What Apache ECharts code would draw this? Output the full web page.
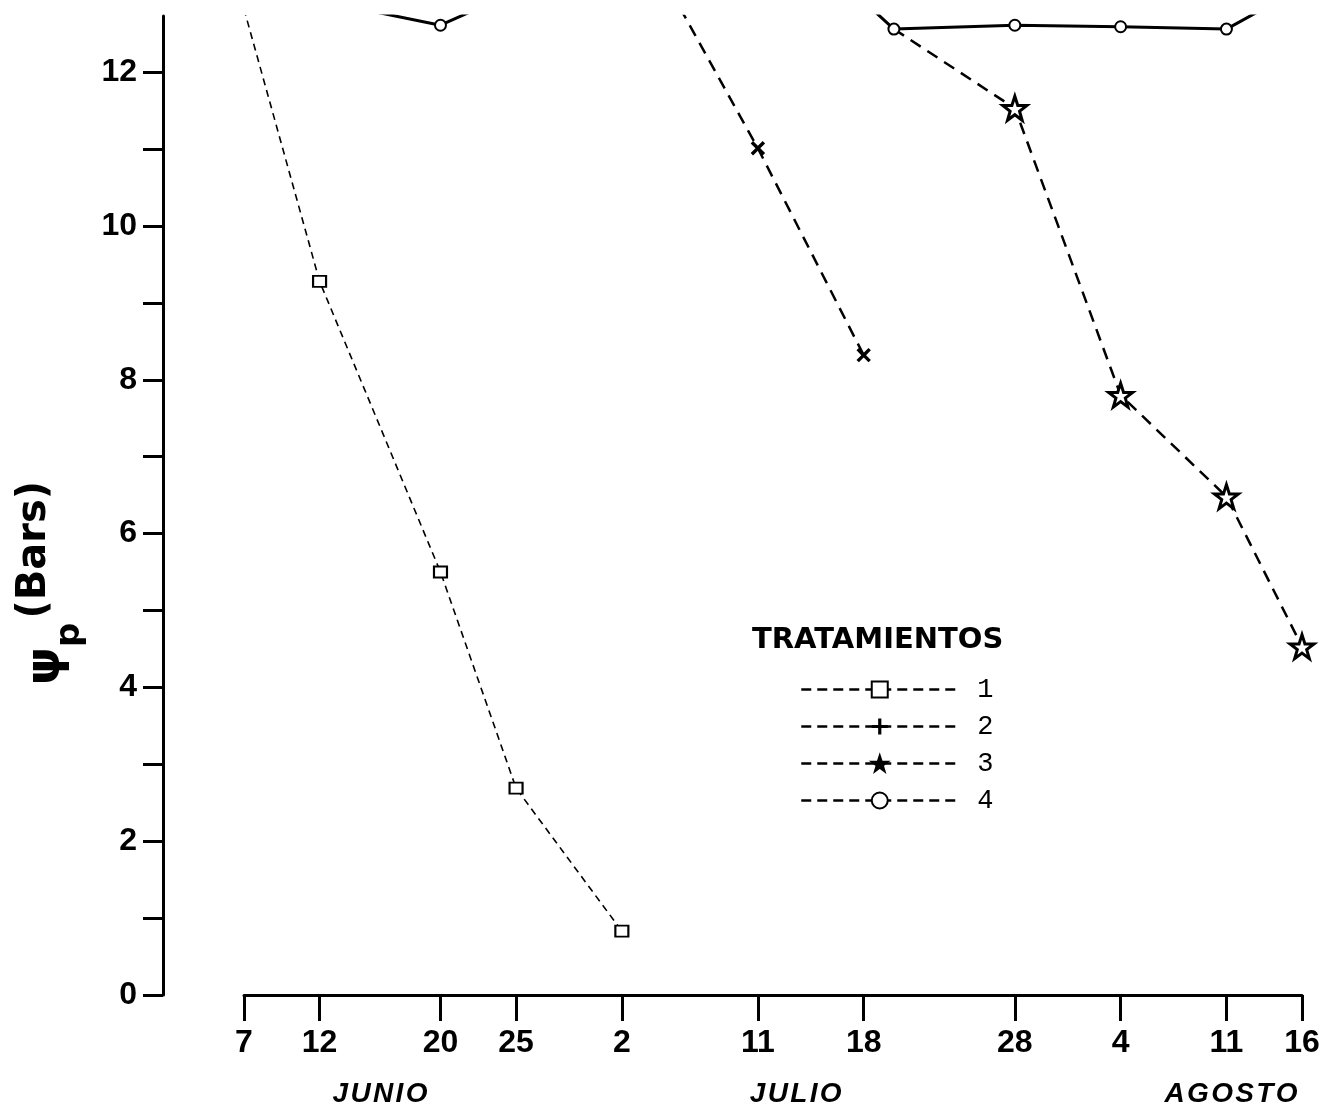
<!DOCTYPE html>
<html>
<head>
<meta charset="utf-8">
<script src="https://cdn.jsdelivr.net/npm/echarts@6/dist/echarts.min.js"></script>
<style>
html,body{margin:0;padding:0;background:#fff;}
#chart{width:1324px;height:1112px;}
</style>
</head>
<body>
<div id="chart"></div>
<script>
// x = days since 7 June
const tickDays = [0, 5, 13, 18, 25, 34, 41, 51, 58, 65, 70];
const tickLabels = ['7', '12', '20', '25', '2', '11', '18', '28', '4', '11', '16'];
const monthDays = [9, 36.5, 65.3];
const monthLabels = ['JUNIO', 'JULIO', 'AGOSTO'];
const yTicks = [0,1,2,3,4,5,6,7,8,9,10,11,12];
const yLabels = [0,2,4,6,8,10,12];

const t1Days = [0, 5, 13, 18, 25];
const t1Vals = [12.82, 9.28, 5.50, 2.69, 0.83];
const t2Days = [25, 34, 41];
const t2Vals = [14.2, 11.01, 8.32];
const t3Days = [43, 51, 58, 65, 70];
const t3Vals = [12.56, 11.53, 7.80, 6.48, 4.53];
const t4Days = [5, 13, 18, 41, 43, 51, 58, 65, 70];
const t4Vals = [12.93, 12.61, 13.05, 12.92, 12.56, 12.61, 12.59, 12.56, 13.1];
const seriesNames = ['1', '2', '3', '4'];

const PLUS = 'path://M4,0H6V4H10V6H6V10H4V6H0V4H4Z';
const STAR = 'path://M50,0L61.8,35.1L98.1,35.1L68.8,56.7L79.4,91L50,70L20.6,91L31.2,56.7L1.9,35.1L38.2,35.1Z';

const pairs = (xs, ys) => xs.map((x, i) => [x, ys[i]]);
const spaced = s => s.split('').join('\u200A');

const chart = echarts.init(document.getElementById('chart'), null, {renderer: 'canvas'});
chart.setOption({
  animation: false,
  backgroundColor: '#fff',
  title: {
    text: 'TRATAMIENTOS',
    left: 752, top: 626, padding: 0,
    textStyle: {fontFamily: 'DejaVu Sans', fontWeight: 'bold', fontSize: 29, color: '#000'}
  },
  legend: {
    orient: 'vertical',
    left: 800, top: 676, padding: 0,
    itemWidth: 157, itemHeight: 20, itemGap: 10,
    selectedMode: false,
    lineStyle: {width: 2.5, type: [10, 6], color: '#000'},
    textStyle: {fontFamily: 'Liberation Mono', fontSize: 27, color: '#000', padding: [4, 0, 0, 14]},
    data: [
      {name: '1'},
      {name: '2'},
      {name: '3', itemStyle: {color: '#000', borderColor: '#000'}},
      {name: '4', lineStyle: {type: [10, 6], width: 2.5}}
    ]
  },
  grid: {left: 244, right: 22, top: 16, bottom: 117, containLabel: false, outerBoundsMode: 'none'},
  xAxis: [{
    type: 'value', min: 0, max: 70,
    axisLine: {show: true, onZero: false, lineStyle: {color: '#000', width: 3}},
    axisTick: {show: true, length: 26, customValues: tickDays, lineStyle: {color: '#000', width: 3}},
    axisLabel: {
      customValues: tickDays,
      formatter: v => tickLabels[tickDays.indexOf(v)],
      margin: 32, fontSize: 32, fontWeight: 'bold', fontFamily: 'Liberation Sans', color: '#000'
    },
    splitLine: {show: false}
  }, {
    type: 'value', min: 0, max: 70, position: 'bottom',
    axisLine: {show: false, onZero: false}, axisTick: {show: false}, splitLine: {show: false},
    axisLabel: {
      customValues: monthDays,
      formatter: v => spaced(monthLabels[monthDays.indexOf(v)]),
      margin: 85, fontSize: 28, fontWeight: 'bold', fontStyle: 'italic',
      fontFamily: 'Liberation Sans', color: '#000'
    }
  }],
  yAxis: {
    type: 'value', min: 0, max: 12.73, offset: 81,
    axisLine: {show: true, onZero: false, lineStyle: {color: '#000', width: 3}},
    axisTick: {show: true, length: 20, customValues: yTicks, lineStyle: {color: '#000', width: 3}},
    axisLabel: {
      customValues: yLabels,
      margin: 26, fontSize: 32, fontWeight: 'bold', fontFamily: 'Liberation Sans', color: '#000'
    },
    splitLine: {show: false},
    name: '{psi|ψ}{sub|p}{bars|(Bars)}',
    nameLocation: 'middle',
    nameGap: 76,
    nameTextStyle: {
      padding: [0, 155, 0, 0],
      rich: {
        psi: {fontFamily: 'DejaVu Sans', fontWeight: 'bold', fontSize: 48, lineHeight: 80, verticalAlign: 'middle', color: '#000'},
        sub: {fontFamily: 'DejaVu Sans', fontWeight: 'bold', fontSize: 34, lineHeight: 39, verticalAlign: 'bottom', color: '#000', padding: [0, 4, 0, 0]},
        bars: {fontFamily: 'DejaVu Sans', fontWeight: 'bold', fontSize: 40, lineHeight: 63, verticalAlign: 'top', color: '#000', padding: [8, 0, 0, 0]}
      }
    }
  },
  series: [{
    name: seriesNames[0], type: 'line',
    data: pairs(t1Days, t1Vals),
    symbol: 'emptyRect', symbolSize: [13, 11],
    itemStyle: {color: '#000'},
    lineStyle: {color: '#000', width: 1.6, type: [7, 5]},
    clip: true, z: 3
  }, {
    name: seriesNames[1], type: 'line',
    data: pairs(t2Days, t2Vals).map(p => ({value: p, symbolRotate: 45})),
    symbol: PLUS, symbolSize: 17,
    itemStyle: {color: '#000'},
    lineStyle: {color: '#000', width: 2.5, type: [12, 8]},
    clip: true, z: 3
  }, {
    name: seriesNames[2], type: 'line',
    data: pairs(t3Days, t3Vals).map((p, i) => i === 0 ? {value: p, symbol: 'none'} : p),
    symbol: STAR, symbolSize: 24,
    itemStyle: {color: '#fff', borderColor: '#000', borderWidth: 3},
    lineStyle: {color: '#000', width: 2.5, type: [12, 8]},
    clip: false, z: 3
  }, {
    name: seriesNames[3], type: 'line',
    data: pairs(t4Days, t4Vals),
    symbol: 'emptyCircle', symbolSize: 11,
    itemStyle: {color: '#000', borderWidth: 2.5},
    lineStyle: {color: '#000', width: 3},
    clip: true, z: 4
  }]
});
</script>
</body>
</html>
